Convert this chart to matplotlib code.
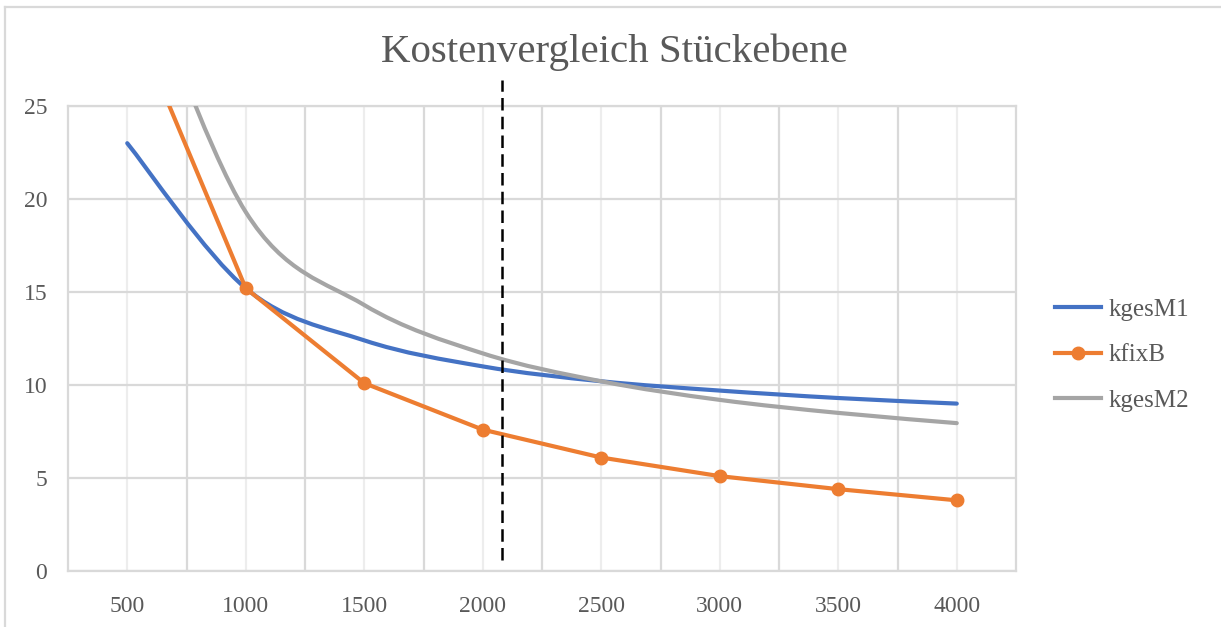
import matplotlib
matplotlib.use("Agg")
import matplotlib.pyplot as plt
from matplotlib.lines import Line2D
from matplotlib.path import Path
from matplotlib.patches import PathPatch

plt.rcParams["font.family"] = ["Liberation Serif", "DejaVu Serif"]

# Daten
menge = [500, 1000, 1500, 2000, 2500, 3000, 3500, 4000]
kgesM1 = [23.0, 15.2, 12.4, 11.0, 10.2, 9.7, 9.3, 9.0]
kfixB = [30.4, 15.2, 10.1, 7.6, 6.1, 5.1, 4.4, 3.8]
kgesM2 = [34.5, 19.3, 14.3, 11.7, 10.2, 9.2, 8.5, 7.95]
grenze = 2080

BLUE, ORANGE, GRAY = "#4472C4", "#ED7D31", "#A5A5A5"
TXT = "#595959"
GRID = "#d9d9d9"


def smooth_path(xs, ys):
    # Excel-artige Glättung: kubische Bezier-Segmente durch die Datenpunkte
    pts = list(zip(xs, ys))
    n = len(pts)
    verts = [pts[0]]
    codes = [Path.MOVETO]
    for i in range(n - 1):
        p0 = pts[i - 1] if i > 0 else pts[i]
        p1, p2 = pts[i], pts[i + 1]
        p3 = pts[i + 2] if i + 2 < n else pts[i + 1]
        c1 = (p1[0] + (p2[0] - p0[0]) / 6, p1[1] + (p2[1] - p0[1]) / 6)
        c2 = (p2[0] - (p3[0] - p1[0]) / 6, p2[1] - (p3[1] - p1[1]) / 6)
        verts += [c1, c2, p2]
        codes += [Path.CURVE4] * 3
    return Path(verts, codes)


fig = plt.figure(figsize=(12.21, 6.27), dpi=100)
ax = fig.add_axes([68 / 1221, 56 / 627, 948 / 1221, 465 / 627])

ax.set_xlim(250, 4250)
ax.set_ylim(0, 25)

# Gitter
ax.set_yticks([0, 5, 10, 15, 20, 25])
ax.set_xticks(menge)
ax.set_xticks([750, 1250, 1750, 2250, 2750, 3250, 3750], minor=True)
ax.grid(axis="y", color=GRID, lw=1.6)
ax.grid(axis="x", which="minor", color=GRID, lw=1.6)
ax.grid(axis="x", which="major", color="#ededed", lw=1.6)
ax.set_axisbelow(True)
for s in ax.spines.values():
    s.set_color(GRID)
    s.set_linewidth(1.6)
ax.tick_params(which="both", length=0)
ax.tick_params(axis="y", pad=15, labelsize=17, labelcolor=TXT)
ax.tick_params(axis="x", pad=18, labelsize=17, labelcolor=TXT)

# Linien
ax.add_patch(PathPatch(smooth_path(menge, kgesM1), facecolor="none", edgecolor=BLUE,
                       lw=3.0, capstyle="round", zorder=3))
ax.plot(menge, kfixB, color=ORANGE, lw=3.0, marker="o", ms=9, zorder=4)
ax.add_patch(PathPatch(smooth_path(menge, kgesM2), facecolor="none", edgecolor=GRAY,
                       lw=3.0, capstyle="round", zorder=3))

# Gestrichelte Grenzlinie
ax.plot([grenze, grenze], [0.6, 26.4], color="black", lw=1.8,
        linestyle=(0, (5, 2.5)), clip_on=False, zorder=5)

fig.text(0.503, 1 - 52 / 627, "Kostenvergleich Stückebene", ha="center", va="center",
         fontsize=29.5, color=TXT)

handles = [Line2D([], [], color=BLUE, lw=3.0),
           Line2D([], [], color=ORANGE, lw=3.0, marker="o", ms=9),
           Line2D([], [], color=GRAY, lw=3.0)]
fig.legend(handles, ["kgesM1", "kfixB", "kgesM2"], loc="center left",
           bbox_to_anchor=(1055 / 1221, 1 - 355 / 627), frameon=False, fontsize=18,
           labelcolor=TXT, handlelength=1.85, handletextpad=0.3, labelspacing=0.92,
           borderpad=0, borderaxespad=0)

# Rahmen des Diagramms
fig.add_artist(Line2D([5 / 1221, 1], [1 - 7 / 627, 1 - 7 / 627], color=GRID, lw=1.6,
                      transform=fig.transFigure))
fig.add_artist(Line2D([5 / 1221, 5 / 1221], [0, 1 - 7 / 627], color=GRID, lw=1.6,
                      transform=fig.transFigure))

fig.savefig("out.png", dpi=100, facecolor="white")
